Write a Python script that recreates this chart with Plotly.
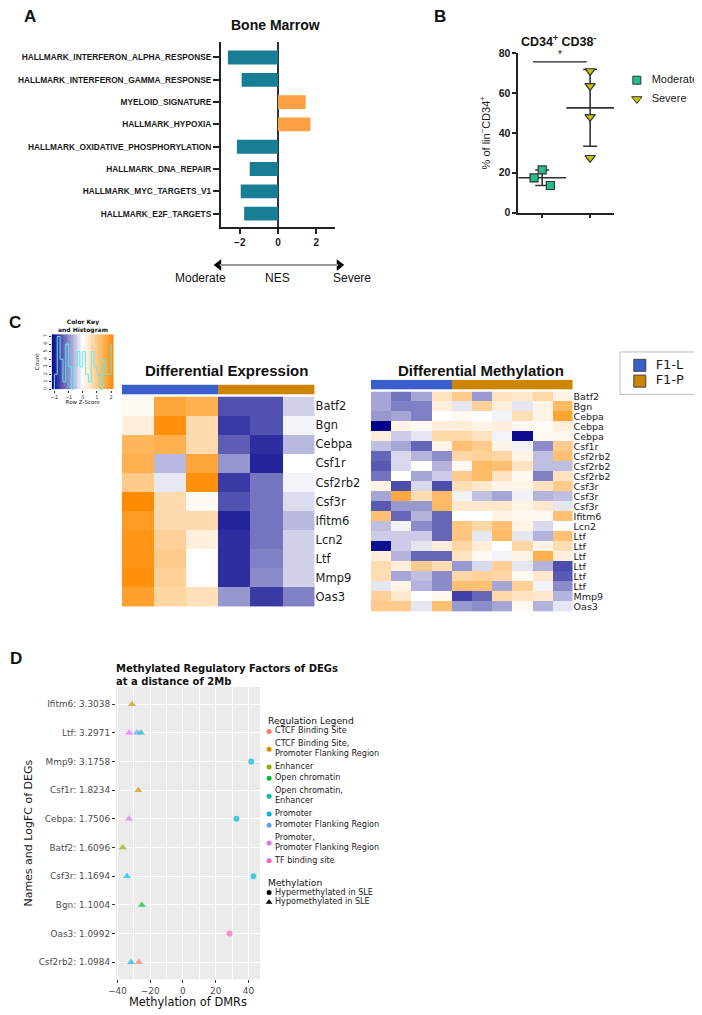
import numpy as np
import plotly.graph_objects as go

W, H = 702, 1015
OFF = 8  # the page shows the figure with an 8 px body margin; all layout positions below are page pixels
ARIAL = "Liberation Sans, Arial, sans-serif"
DEJA = "DejaVu Sans, sans-serif"


def px(x):
    return (x - OFF) / W


def py(y):
    return 1 - (y - OFF) / H


def xd(a, b):
    return [px(a), px(b)]


def yd(top, bottom):
    return [py(bottom), py(top)]


# ---------------- Panel A data ----------------
gsea_terms = [
    "HALLMARK_INTERFERON_ALPHA_RESPONSE",
    "HALLMARK_INTERFERON_GAMMA_RESPONSE",
    "MYELOID_SIGNATURE",
    "HALLMARK_HYPOXIA",
    "HALLMARK_OXIDATIVE_PHOSPHORYLATION",
    "HALLMARK_DNA_REPAIR",
    "HALLMARK_MYC_TARGETS_V1",
    "HALLMARK_E2F_TARGETS",
]
gsea_nes = [-2.62, -1.90, 1.45, 1.70, -2.15, -1.48, -1.95, -1.77]
nes_ticks = [-2, 0, 2]

# ---------------- Panel B data ----------------
moderate_vals = [17.4, 21.4, 13.6]
moderate_jitter = [-0.17, 0.0, 0.17]
severe_vals = [71.0, 63.5, 48.0, 27.5]
severe_jitter = [0.0, 0.0, 0.0, 0.0]
b_groups = ["Moderate", "Severe"]
b_ticks = [0, 20, 40, 60, 80]

# ---------------- Panel C data ----------------
expr_genes = ["Batf2", "Bgn", "Cebpa", "Csf1r", "Csf2rb2", "Csf3r",
              "Ifitm6", "Lcn2", "Ltf", "Mmp9", "Oas3"]
expr_groups = ["F1-L", "F1-L", "F1-L", "F1-P", "F1-P", "F1-P"]
expr_z = [
    [0.1, 1.7, 1.5, -1.5, -1.5, -0.4],
    [0.3, 2.1, 0.7, -1.7, -1.5, -0.1],
    [1.4, 1.5, 0.7, -1.4, -1.8, -0.6],
    [1.5, -0.6, 1.7, -0.9, -1.9, 0.0],
    [1.0, -0.2, 2.1, -1.7, -1.2, -0.1],
    [2.2, 0.7, 0.1, -1.5, -1.2, -0.3],
    [1.9, 0.7, 0.7, -1.9, -1.2, -0.6],
    [2.0, 0.9, 0.3, -1.8, -1.2, -0.4],
    [2.0, 1.0, 0.0, -1.8, -1.1, -0.4],
    [2.1, 0.9, 0.0, -1.8, -1.0, -0.4],
    [1.8, 0.8, 0.6, -0.9, -1.7, -1.1],
]

meth_labels = ["Batf2", "Bgn", "Cebpa", "Cebpa", "Cebpa", "Csf1r",
               "Csf2rb2", "Csf2rb2", "Csf2rb2", "Csf3r", "Csf3r", "Csf3r",
               "Ifitm6", "Lcn2", "Ltf", "Ltf", "Ltf", "Ltf", "Ltf", "Ltf",
               "Mmp9", "Oas3"]
meth_groups = ["F1-L"] * 4 + ["F1-P"] * 6
meth_z = [
    [-0.35, -0.55, -0.35, 0.25, 0.45, -0.4, 0.25, 0.2, 0.35, 0.1],
    [-0.35, -0.5, -0.5, 0.15, -0.1, 0.4, 0.15, -0.1, 0.1, 0.6],
    [-0.4, -0.35, -0.5, 0.0, 0.05, 0.0, -0.05, 0.3, 0.1, 0.8],
    [-1.0, 0.1, 0.05, 0.15, 0.15, 0.1, 0.15, 0.05, 0.03, 0.15],
    [0.15, -0.2, -0.1, 0.35, 0.35, 0.25, -0.05, -0.95, 0.05, 0.05],
    [-0.25, -0.35, -0.6, 0.1, 0.55, 0.45, 0.1, -0.05, -0.45, 0.45],
    [-0.6, -0.15, -0.3, -0.45, 0.35, 0.4, 0.35, 0.1, -0.25, 0.55],
    [-0.65, -0.15, 0.0, -0.3, 0.05, 0.6, 0.55, 0.25, -0.25, -0.25],
    [-0.55, 0.0, -0.35, -0.2, 0.45, 0.6, 0.25, 0.05, -0.5, 0.25],
    [0.1, -0.7, -0.15, -0.7, 0.3, 0.2, 0.1, 0.1, 0.25, 0.45],
    [-0.35, 0.75, 0.3, 0.6, -0.05, -0.25, -0.35, -0.05, -0.3, -0.25],
    [-0.65, -0.4, -0.4, 0.6, 0.2, 0.2, 0.2, 0.1, 0.2, -0.1],
    [0.55, -0.6, -0.3, -0.6, 0.0, 0.0, 0.1, 0.05, 0.05, 0.55],
    [-0.25, -0.05, -0.45, -0.6, 0.5, 0.35, 0.55, 0.1, -0.15, 0.0],
    [-0.2, -0.2, -0.2, -0.6, 0.5, -0.1, 0.6, -0.1, -0.3, 0.55],
    [-0.95, -0.2, -0.1, 0.15, 0.35, 0.15, 0.0, 0.35, 0.1, 0.3],
    [0.15, -0.3, -0.6, -0.6, 0.25, 0.05, -0.05, 0.1, 0.7, 0.15],
    [0.3, 0.15, 0.45, 0.3, -0.4, -0.15, 0.4, -0.1, -0.3, -0.7],
    [0.3, -0.35, -0.25, -0.45, 0.35, 0.4, 0.35, 0.05, 0.2, -0.65],
    [-0.1, 0.1, -0.3, -0.45, 0.55, 0.55, -0.35, 0.4, -0.05, -0.45],
    [0.4, 0.2, 0.0, 0.05, -0.75, -0.6, 0.35, 0.25, 0.2, -0.3],
    [0.45, 0.45, -0.1, 0.55, -0.4, -0.45, -0.35, 0.05, -0.3, -0.1],
]
group_names = ["F1-L", "F1-P"]
group_colors = ["#3A5FCD", "#CD8500"]
key_ticks = [-2, -1, 0, 1, 2]

# ---------------- Panel D data ----------------
deg_names = ["Ifitm6", "Ltf", "Mmp9", "Csf1r", "Cebpa", "Batf2",
             "Csf3r", "Bgn", "Oas3", "Csf2rb2"]
deg_logfc = [3.3038, 3.2971, 3.1758, 1.8234, 1.7506, 1.6096,
             1.1694, 1.1004, 1.0992, 1.0984]
dmr_gene = ["Ifitm6", "Ltf", "Ltf", "Ltf", "Mmp9", "Csf1r", "Cebpa", "Cebpa",
            "Batf2", "Csf3r", "Csf3r", "Bgn", "Oas3", "Csf2rb2", "Csf2rb2"]
dmr_meth = [-31.1, -32.8, -28.1, -25.7, 41.7, -27.3, -33.0, 32.7,
            -36.8, -34.2, 43.1, -25.1, 28.5, -31.7, -26.9]
dmr_region = [
    "CTCF Binding Site, Promoter Flanking Region",
    "Promoter, Promoter Flanking Region",
    "Promoter Flanking Region",
    "Open chromatin, Enhancer",
    "Promoter",
    "CTCF Binding Site, Promoter Flanking Region",
    "Promoter, Promoter Flanking Region",
    "Promoter",
    "Enhancer",
    "Promoter",
    "Promoter",
    "Open chromatin",
    "TF binding site",
    "Promoter",
    "CTCF Binding Site",
]
dmr_status = ["Hypo", "Hypo", "Hypo", "Hypo", "Hyper", "Hypo", "Hypo", "Hyper",
              "Hypo", "Hypo", "Hyper", "Hypo", "Hyper", "Hypo", "Hypo"]
region_levels = [
    "CTCF Binding Site",
    "CTCF Binding Site, Promoter Flanking Region",
    "Enhancer",
    "Open chromatin",
    "Open chromatin, Enhancer",
    "Promoter",
    "Promoter Flanking Region",
    "Promoter, Promoter Flanking Region",
    "TF binding site",
]
region_colors = ["#F8766D", "#D39200", "#93AA00", "#00BA38", "#00C19F",
                 "#00B9E3", "#619CFF", "#DB72FB", "#FF61C3"]
status_levels = ["Hyper", "Hypo"]
status_names = ["Hypermethylated in SLE", "Hypomethylated in SLE"]
status_symbols = ["circle", "triangle-up"]
d_ticks = [-40, -20, 0, 20, 40]

fig = go.Figure()

# ================= Panel A =================
teal, orange = "#177E96", "#FCA043"
fig.add_trace(go.Bar(
    x=gsea_nes, y=gsea_terms, orientation="h", width=0.62,
    marker=dict(color=[teal if v < 0 else orange for v in gsea_nes], line=dict(width=0)),
    xaxis="x", yaxis="y", showlegend=False,
))

# ================= Panel B =================
b_colors = ["#22BF8C", "#C9C40A"]
b_symbols = ["square", "triangle-down"]
b_values = [moderate_vals, severe_vals]
b_jitter = [moderate_jitter, severe_jitter]
for i, vals in enumerate(b_values):
    m = float(np.mean(vals))
    sd = float(np.std(vals, ddof=1))
    fig.add_trace(go.Scatter(
        x=[i], y=[m], mode="markers", xaxis="x2", yaxis="y2", showlegend=False,
        marker=dict(symbol="line-ew", size=34, line=dict(width=1.6, color="#333333")),
        error_y=dict(type="data", array=[sd], color="#333333", thickness=1.6, width=7),
        hoverinfo="skip",
    ))
for i, (vals, jit) in enumerate(zip(b_values, b_jitter)):
    fig.add_trace(go.Scatter(
        x=[i + j for j in jit], y=vals, mode="markers", name=b_groups[i], showlegend=False,
        marker=dict(symbol=b_symbols[i], size=8 if i == 0 else 9, color=b_colors[i],
                    line=dict(width=1.2, color="#333333")),
        xaxis="x2", yaxis="y2",
    ))

# ================= Panel C =================
cs = [[0, "#00008B"], [0.5, "#FFFFFF"], [1, "#FF8C00"]]
strip_cs = [[0, group_colors[0]], [0.5, group_colors[0]], [0.5, group_colors[1]], [1, group_colors[1]]]
Z_LIM = 2.2

fig.add_trace(go.Heatmap(
    z=[[group_names.index(g) for g in expr_groups]], x=list(range(len(expr_groups))), y=[0],
    colorscale=strip_cs, zmin=0, zmax=1, showscale=False, xaxis="x4", yaxis="y4", hoverinfo="skip",
))
fig.add_trace(go.Heatmap(
    z=expr_z, x=list(range(len(expr_groups))), y=expr_genes, colorscale=cs, zmin=-Z_LIM, zmax=Z_LIM,
    xaxis="x5", yaxis="y5", showscale=False,
))
fig.add_trace(go.Heatmap(
    z=[[group_names.index(g) for g in meth_groups]], x=list(range(len(meth_groups))), y=[0],
    colorscale=strip_cs, zmin=0, zmax=1, showscale=False, xaxis="x6", yaxis="y6", hoverinfo="skip",
))
fig.add_trace(go.Heatmap(
    z=meth_z, x=list(range(len(meth_groups))), y=list(range(len(meth_labels))),
    colorscale=cs, zmin=-1, zmax=1, showscale=False, xaxis="x7", yaxis="y7",
))

# colour key: one colour block per key break, with histogram of the expression z-scores
flat = np.array(expr_z).ravel()
counts, edges = np.histogram(flat, bins=np.linspace(-Z_LIM, Z_LIM, 23))
key_top = float(max(counts)) + 0.3
key_breaks = np.linspace(-Z_LIM, Z_LIM, 45)
key_mid = (key_breaks[:-1] + key_breaks[1:]) / 2
fig.add_trace(go.Heatmap(
    z=[list(key_mid)], x=list(key_breaks), y=[0, key_top],
    colorscale=cs, zmin=-Z_LIM, zmax=Z_LIM, showscale=False,
    xaxis="x3", yaxis="y3", hoverinfo="skip",
))
fig.add_trace(go.Scatter(
    x=list(edges), y=list(counts) + [counts[-1]], mode="lines", line=dict(color="#5EEAEA", width=1, shape="hv"),
    xaxis="x3", yaxis="y3", showlegend=False, hoverinfo="skip",
))

# ================= Panel D =================
deg_label = {g: f"{g}: {fc:.4f}" for g, fc in zip(deg_names, deg_logfc)}
for reg, col in zip(region_levels, region_colors):
    idx = [i for i, r in enumerate(dmr_region) if r == reg]
    if not idx:
        continue
    fig.add_trace(go.Scatter(
        x=[dmr_meth[i] for i in idx],
        y=[deg_label[dmr_gene[i]] for i in idx],
        mode="markers", showlegend=False, xaxis="x8", yaxis="y8",
        marker=dict(
            color=col,
            symbol=[status_symbols[status_levels.index(dmr_status[i])] for i in idx],
            size=[6 if dmr_status[i] == "Hyper" else 7 for i in idx],
            line=dict(width=0),
        ),
        name=reg,
    ))


# ---------------- legend keys, drawn on a page-sized helper axis (x9/y9, page pixel units) ----------------
def key_markers(xs, ys, colors, symbols, sizes, line_col=None):
    fig.add_trace(go.Scatter(
        x=xs, y=ys, mode="markers", xaxis="x9", yaxis="y9", showlegend=False, hoverinfo="skip",
        marker=dict(color=colors, symbol=symbols, size=sizes, opacity=1,
                    line=dict(width=1 if line_col else 0, color=line_col or "rgba(0,0,0,0)")),
    ))


def key_text(xs, ys, texts, family, size):
    fig.add_trace(go.Scatter(
        x=xs, y=ys, mode="text", text=texts, textposition="middle right",
        textfont=dict(family=family, size=size, color="#1a1a1a"),
        xaxis="x9", yaxis="y9", showlegend=False, hoverinfo="skip",
    ))


# Panel B legend
b_leg_y = [75, 94]
key_markers([636] * 2, b_leg_y, b_colors, b_symbols, [8, 9], "#333333")
key_text([651] * 2, b_leg_y, b_groups, ARIAL, 11)

# Panel C group legend
c_leg_y = [363.5, 379.5]
key_markers([639] * 2, c_leg_y, group_colors, ["square"] * 2, [12, 12], "#444444")
key_text([655] * 2, c_leg_y, group_names, DEJA, 13)

# Panel D legends
reg_display = [r.replace(", ", ",<br>") for r in region_levels]
nlines = [s.count("<br>") + 1 for s in reg_display]
heights = [11.5 + 13 * (n - 1) for n in nlines]
centers = [734.0]
for k in range(1, len(heights)):
    centers.append(centers[-1] + (heights[k - 1] + heights[k]) / 2)
key_markers([264] * len(region_levels), centers, region_colors, ["circle"] * len(region_levels),
            [5] * len(region_levels))
key_text([270] * len(region_levels), centers, reg_display, DEJA, 8.1)
status_y = [897, 907]
key_markers([264] * 2, status_y, ["black", "black"], status_symbols, [5, 6])
key_text([270] * 2, status_y, status_names, DEJA, 8.1)

# NES arrow heads
key_markers([213, 335], [262, 262], ["black", "black"], ["triangle-left", "triangle-right"], [10, 10])

# ================= Layout =================
hidden = dict(visible=False, showgrid=False, zeroline=False)
axis_line = dict(showline=True, linecolor="#222222", linewidth=1.5, showgrid=False,
                 ticks="outside", tickcolor="#222222", tickwidth=1.5)

layout = dict(
    width=W, height=H, margin=dict(l=0, r=0, t=0, b=0),
    paper_bgcolor="white", plot_bgcolor="rgba(0,0,0,0)", showlegend=False,
    font=dict(family=ARIAL, color="#1a1a1a"),
    # Panel A
    xaxis=dict(domain=xd(215, 331), anchor="y", range=[-3, 3], tickvals=nes_ticks, ticklen=5,
               zeroline=True, zerolinecolor="#333333", zerolinewidth=1.5,
               tickfont=dict(family=ARIAL, size=10, weight="bold", color="#1a1a1a"), **axis_line),
    yaxis=dict(domain=yd(36, 224), anchor="x", type="category", range=[len(gsea_terms) - 1 + 0.62, -0.71],
               ticklen=6, tickfont=dict(family=ARIAL, size=8.3, weight="bold", color="#1a1a1a"), **axis_line),
    # Panel B
    xaxis2=dict(domain=xd(516, 613), anchor="y2", range=[-0.5, 1.5], tickvals=[0, 1],
                showticklabels=False, ticklen=4, zeroline=False, **axis_line),
    yaxis2=dict(domain=yd(47.5, 209), anchor="x2", range=[0, 80], tickvals=b_ticks, ticklen=4,
                zeroline=False, tickfont=dict(family=ARIAL, size=10.5, weight="bold", color="#1a1a1a"),
                title=dict(text="% of lin<sup>−</sup>CD34<sup>+</sup>", font=dict(family=ARIAL, size=11),
                           standoff=6), **axis_line),
    # colour key
    xaxis3=dict(domain=xd(44, 107), anchor="y3", range=[-Z_LIM, Z_LIM], tickvals=key_ticks,
                ticks="outside", ticklen=2, tickwidth=0.6, tickcolor="#333", showgrid=False, zeroline=False,
                tickfont=dict(family=DEJA, size=5, color="#333"),
                title=dict(text="Row Z-Score", font=dict(family=DEJA, size=5.5), standoff=1)),
    yaxis3=dict(domain=yd(332, 388), anchor="x3", range=[0, key_top], dtick=1,
                ticks="outside", ticklen=2, tickwidth=0.6, tickcolor="#333", showgrid=False, zeroline=False,
                tickangle=-90, tickfont=dict(family=DEJA, size=5, color="#333"),
                title=dict(text="Count", font=dict(family=DEJA, size=5.5), standoff=1)),
    # expression heatmap
    xaxis4=dict(domain=xd(115, 310), anchor="y4", range=[-0.5, len(expr_groups) - 0.5], **hidden),
    yaxis4=dict(domain=yd(383, 393), anchor="x4", range=[-0.5, 0.5], **hidden),
    xaxis5=dict(domain=xd(115, 310), anchor="y5", range=[-0.5, len(expr_groups) - 0.5], **hidden),
    yaxis5=dict(domain=yd(395, 608), anchor="x5", side="right", autorange="reversed", type="category",
                ticks="", showgrid=False, zeroline=False,
                tickfont=dict(family=DEJA, size=11.5, color="#1a1a1a")),
    # methylation heatmap
    xaxis6=dict(domain=xd(367, 571), anchor="y6", range=[-0.5, len(meth_groups) - 0.5], **hidden),
    yaxis6=dict(domain=yd(378, 388), anchor="x6", range=[-0.5, 0.5], **hidden),
    xaxis7=dict(domain=xd(367, 571), anchor="y7", range=[-0.5, len(meth_groups) - 0.5], **hidden),
    yaxis7=dict(domain=yd(390, 613), anchor="x7", side="right", range=[len(meth_labels) - 0.5, -0.5],
                tickvals=list(range(len(meth_labels))), ticktext=meth_labels, ticks="",
                showgrid=False, zeroline=False, tickfont=dict(family=DEJA, size=9.5, color="#1a1a1a")),
    # Panel D
    xaxis8=dict(domain=xd(109, 255), anchor="y8", range=[-41, 47.2], tickvals=d_ticks,
                showgrid=True, gridcolor="white", gridwidth=1.1, zeroline=False,
                minor=dict(tickvals=[-30, -10, 10, 30], showgrid=True, gridcolor="white", gridwidth=0.5),
                ticks="outside", ticklen=2.5, tickcolor="#333333", tickwidth=0.8,
                tickfont=dict(family=DEJA, size=8.9, color="#4d4d4d")),
    yaxis8=dict(domain=yd(689, 985), anchor="x8", type="category",
                categoryarray=[deg_label[g] for g in deg_names],
                range=[len(deg_names) - 1 + 0.6, -0.6],
                showgrid=True, gridcolor="white", gridwidth=1.1, zeroline=False,
                ticks="outside", ticklen=3, tickcolor="#333333", tickwidth=0.8,
                tickfont=dict(family=DEJA, size=8.9, color="#4d4d4d"),
                title=dict(text="Names and LogFC of DEGs", font=dict(family=DEJA, size=11), standoff=3)),
    # page-sized helper axis in page-pixel units (for legend keys)
    xaxis9=dict(domain=[0, 1], anchor="y9", range=[OFF, W + OFF], **hidden),
    yaxis9=dict(domain=[0, 1], anchor="x9", range=[H + OFF, OFF], **hidden),
)
fig.update_layout(**layout)

# background for ggplot-style panel
fig.add_shape(type="rect", xref="x8 domain", yref="y8 domain", x0=0, x1=1, y0=0, y1=1,
              fillcolor="#EBEBEB", line=dict(width=0), layer="below")
# significance bracket in panel B
fig.add_shape(type="line", xref="x2", yref="y2", x0=-0.19, x1=0.93, y0=75.6, y1=75.6,
              line=dict(color="#222222", width=1.2))
# NES arrow line in panel A
fig.add_shape(type="line", xref="paper", yref="paper", x0=px(214), x1=px(334), y0=py(262), y1=py(262),
              line=dict(color="#9a9a9a", width=2))
# group legend box in panel C
fig.add_shape(type="rect", xref="paper", yref="paper", x0=px(619), x1=px(696), y0=py(393), y1=py(350),
              line=dict(color="#bbbbbb", width=1), fillcolor="rgba(0,0,0,0)")

ann = []


def label(text, x, y, size, bold=False, family=ARIAL, xanchor="center", yanchor="middle", **kw):
    ann.append(dict(text=f"<b>{text}</b>" if bold else text, x=px(x), y=py(y), xref="paper", yref="paper",
                    showarrow=False, xanchor=xanchor, yanchor=yanchor,
                    font=dict(family=family, size=size, color="#111111"), **kw))


label("A", 22, 11, 17, True)
label("B", 437, 11, 17, True)
label("C", 7, 320, 17, True)
label("D", 8, 660, 17, True)
label("Bone Marrow", 270, 19, 14, True)
label("CD34<sup>+</sup> CD38<sup>-</sup>", 557, 35, 12.5, True)
label("Moderate", 195, 275, 12)
label("NES", 273, 275, 12)
label("Severe", 348, 275, 12)
label("Differential Expression", 220.5, 369, 15, True)
label("Differential Methylation", 478, 369, 15, True)
label("Color Key<br>and Histogram", 76, 324, 6, True, family=DEJA)
label("Methylated Regulatory Factors of DEGs<br>at a distance of 2Mb", 107, 677, 10, True,
      family=DEJA, xanchor="left", align="left")
label("Regulation Legend", 261, 723, 9.2, family=DEJA, xanchor="left")
label("Methylation", 261, 887, 9.2, family=DEJA, xanchor="left")
label("Methylation of DMRs", 182, 1008, 11.4, family=DEJA)
ann.append(dict(text="*", x=0.37, y=75.6, xref="x2", yref="y2", showarrow=False, yanchor="bottom",
                font=dict(family=ARIAL, size=10, color="#111111")))
fig.update_layout(annotations=ann)

fig.write_html("out.html")
